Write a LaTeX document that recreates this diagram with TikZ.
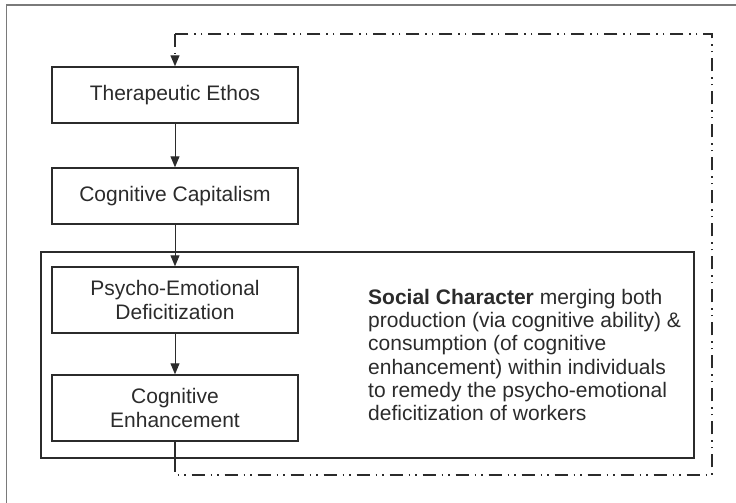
\documentclass[tikz,border=0pt]{standalone}
\usepackage{fontspec}
\setmainfont{Liberation Sans}
\usetikzlibrary{arrows.meta}
\definecolor{ink}{HTML}{2B2B2B}
\definecolor{framegray}{HTML}{7A7A7A}
\begin{document}
\begin{tikzpicture}[x=1pt,y=-1pt,
  every node/.style={font=\fontsize{21}{23.3}\selectfont, text=ink},
  boxnode/.style={draw=ink, line width=1.4pt, minimum width=246pt, inner sep=0pt, align=center},
  flowarrow/.style={draw=ink, line width=0.9pt, -{Triangle[length=11pt,width=9pt]}},
  loopline/.style={draw=ink, line width=1.3pt, dash pattern=on 13pt off 6pt on 1.5pt off 5pt on 1.5pt off 6pt}]
\useasboundingbox (0,0) rectangle (736,503);
% outer frame (only left and top visible)
\draw[framegray, line width=1.5pt] (6.5,520) -- (6.5,5) -- (760,5);
% big box
\node[draw=ink, line width=1.4pt, minimum width=653pt, minimum height=206pt, inner sep=0pt] (big) at (367.5,355) {};
% flow boxes
\node[boxnode, minimum height=56pt] (ther) at (175,95) {Therapeutic Ethos};
\node[boxnode, minimum height=56pt] (cap) at (175,196) {Cognitive Capitalism};
\node[boxnode, minimum height=66pt] (psy) at (175,300) {Psycho-Emotional\\Deficitization};
\node[boxnode, minimum height=66pt] (enh) at (175,408) {Cognitive\\Enhancement};
% description
\node[anchor=west, align=left, inner sep=0pt] (desc) at (368,355)
  {\textbf{Social Character} merging both\\
   production (via cognitive ability) \&\\
   consumption (of cognitive\\
   enhancement) within individuals\\
   to remedy the psycho-emotional\\
   deficitization of workers};
% arrows
\draw[flowarrow] (ther.south) -- (cap.north);
\draw[flowarrow] (cap.south) -- (psy.north);
\draw[flowarrow] (psy.south) -- (enh.north);
% feedback loop
\coordinate (lb) at (enh.south |- big.south);
\coordinate (c1) at (175,475);
\coordinate (c2) at (712,475);
\coordinate (c3) at (712,34);
\coordinate (c4) at (175,34);
\draw[draw=ink, line width=1.3pt] (enh.south) -- (lb);
\draw[loopline] (lb) -- (c1) -- (c2) -- (c3) -- (c4);
\draw[loopline, -{Triangle[length=11pt,width=9pt]}] (c4) -- (ther.north);
\end{tikzpicture}
\end{document}
